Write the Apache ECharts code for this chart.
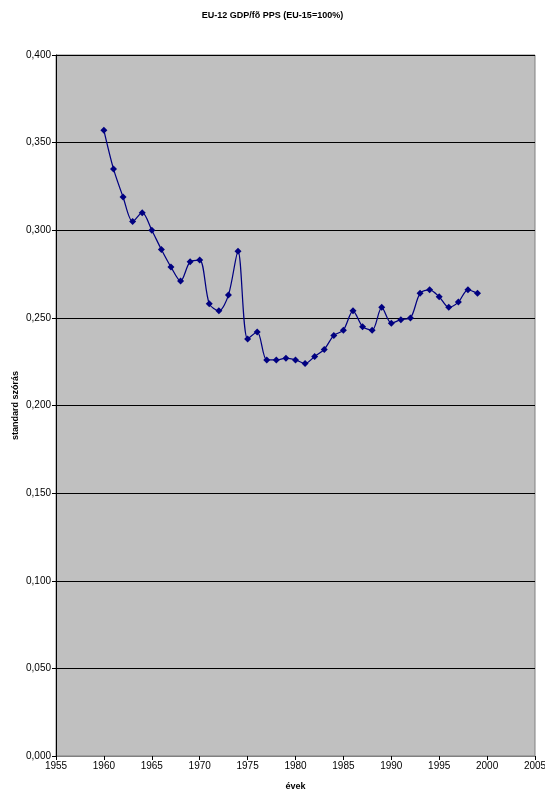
<!DOCTYPE html>
<html>
<head>
<meta charset="utf-8">
<script src="https://cdn.jsdelivr.net/npm/echarts@6/dist/echarts.min.js"></script>
<style>
html,body{margin:0;padding:0;background:#fff;}
#c{width:545px;height:789px;}
</style>
</head>
<body>
<div id="c"></div>
<script>
const years = [1960,1961,1962,1963,1964,1965,1966,1967,1968,1969,1970,1971,1972,1973,1974,1975,1976,1977,1978,1979,1980,1981,1982,1983,1984,1985,1986,1987,1988,1989,1990,1991,1992,1993,1994,1995,1996,1997,1998,1999];
const values = [0.357,0.335,0.319,0.305,0.310,0.300,0.289,0.279,0.271,0.282,0.283,0.258,0.254,0.263,0.288,0.238,0.242,0.226,0.226,0.227,0.226,0.224,0.228,0.232,0.240,0.243,0.254,0.245,0.243,0.256,0.247,0.249,0.250,0.264,0.266,0.262,0.256,0.259,0.266,0.264];
const titleText = 'EU-12 GDP/fõ PPS (EU-15=100%)';
const xName = 'évek';
const yName = 'standard szórás';

const chart = echarts.init(document.getElementById('c'));
const font = 'Liberation Sans, Arial, sans-serif';
chart.setOption({
  animation: false,
  backgroundColor: '#ffffff',
  title: [{
    text: titleText,
    left: 'center',
    top: 6,
    textStyle: {fontFamily: font, fontSize: 9, fontWeight: 'bold', color: '#000'}
  }],
  grid: {
    left: 56, right: 10, top: 55, bottom: 33,
    containLabel: false, outerBoundsMode: 'none',
    show: true, backgroundColor: '#C0C0C0', borderColor: '#808080', borderWidth: 1
  },
  xAxis: {
    type: 'value', min: 1955, max: 2005, interval: 5,
    name: xName, nameLocation: 'middle', nameGap: 26, nameMoveOverlap: false,
    nameTextStyle: {fontFamily: font, fontSize: 9, fontWeight: 'bold', color: '#000'},
    axisLine: {show: true, lineStyle: {color: '#808080', width: 1}},
    axisTick: {show: true, inside: false, length: 4, lineStyle: {color: '#000'}},
    axisLabel: {fontFamily: font, fontSize: 10, color: '#000', margin: 5, formatter: v => String(v)},
    splitLine: {show: false}
  },
  yAxis: {
    type: 'value', min: 0, max: 0.4, interval: 0.05,
    name: yName, nameLocation: 'middle', nameGap: 36, nameRotate: 90, nameMoveOverlap: false,
    nameTextStyle: {fontFamily: font, fontSize: 9, fontWeight: 'bold', color: '#000'},
    axisLine: {show: true, lineStyle: {color: '#000', width: 1}},
    axisTick: {show: true, inside: false, length: 4, lineStyle: {color: '#000'}},
    axisLabel: {fontFamily: font, fontSize: 10, color: '#000', margin: 5,
      formatter: v => v.toFixed(3).replace('.', ',')},
    splitLine: {show: true, lineStyle: {color: '#000', width: 1}}
  },
  series: [{
    type: 'line',
    data: years.map((y, i) => [y, values[i]]),
    smooth: 0.3,
    symbol: 'diamond',
    symbolSize: 7,
    itemStyle: {color: '#000080'},
    lineStyle: {color: '#000080', width: 1.25}
  }]
});
</script>
</body>
</html>
